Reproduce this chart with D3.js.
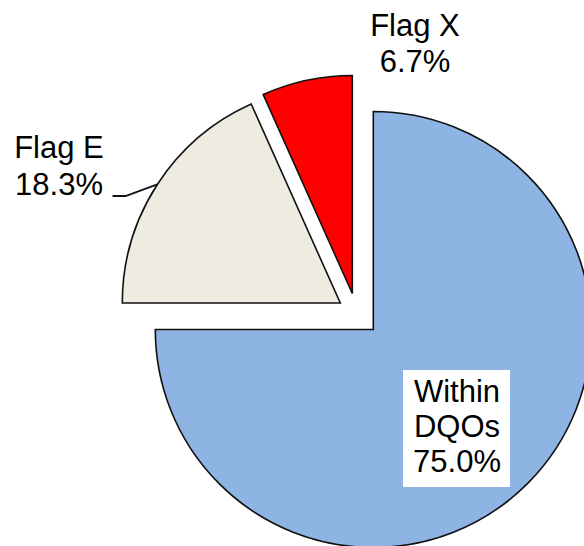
<!DOCTYPE html>
<html>
<head>
<meta charset="utf-8">
<script src="https://cdn.jsdelivr.net/npm/d3@7"></script>
<style>
  html, body { margin: 0; padding: 0; background: #fff; }
  svg { display: block; }
  text { font-family: "Liberation Sans", Arial, sans-serif; fill: #000; }
</style>
</head>
<body>
<svg id="chart" width="584" height="546"></svg>
<script>
// Share of results by data-quality flag
const categories = ["Within DQOs", "Flag E", "Flag X"];
const shares = [75.0, 18.3, 6.7];
const labelLines = [["Within", "DQOs", "75.0%"], ["Flag E", "18.3%"], ["Flag X", "6.7%"]];

// layout
const W = 584, H = 546;
const cx = 373.3, cy = 329.5, radius = 218;
const colors = { "Within DQOs": "#8EB4E3", "Flag E": "#EEECE1", "Flag X": "#FF0000" };
const explode = { "Within DQOs": [0, 0], "Flag E": [-33, -26.5], "Flag X": [-21, -36] };
const fontSize = 31, lineGap = 36;

const svg = d3.select("#chart");

const pie = d3.pie().sort(null).value(d => d.value).startAngle(0).endAngle(2 * Math.PI);
const arc = d3.arc().innerRadius(0).outerRadius(radius);

const rows = categories.map((c, i) => ({ name: c, value: shares[i], lines: labelLines[i] }));
const arcs = pie(rows);

const g = svg.append("g").attr("transform", `translate(${cx},${cy})`);

g.selectAll("path.slice")
  .data(arcs)
  .join("path")
  .attr("class", "slice")
  .attr("transform", d => `translate(${explode[d.data.name][0]},${explode[d.data.name][1]})`)
  .attr("d", arc)
  .attr("fill", d => colors[d.data.name])
  .attr("stroke", "#111")
  .attr("stroke-width", 1.6)
  .attr("stroke-linejoin", "miter");

// Flag E leader line, from label to the slice rim at its mid-angle
const e = arcs[1];
const eOff = explode["Flag E"];
const leadAngle = (e.startAngle + e.endAngle) / 2;
const rim = [cx + eOff[0] + radius * Math.sin(leadAngle), cy + eOff[1] - radius * Math.cos(leadAngle)];
svg.append("path")
  .attr("d", d3.line()([[112.5, 196], [125.5, 196], rim]))
  .attr("fill", "none")
  .attr("stroke", "#111")
  .attr("stroke-width", 1.8);

// labels
const labelPos = {
  "Within DQOs": { x: 457, y: 402, gap: 35, box: [403, 370, 107, 117] },
  "Flag E": { x: 59, y: 158, gap: 37 },
  "Flag X": { x: 415, y: 36, gap: 36 }
};

rows.forEach(r => {
  const p = labelPos[r.name];
  if (p.box) {
    svg.append("rect")
      .attr("x", p.box[0]).attr("y", p.box[1])
      .attr("width", p.box[2]).attr("height", p.box[3])
      .attr("fill", "#fff");
  }
  const t = svg.append("text")
    .attr("text-anchor", "middle")
    .attr("font-size", fontSize);
  r.lines.forEach((ln, i) => {
    t.append("tspan").attr("x", p.x).attr("y", p.y + i * p.gap).text(ln);
  });
});
</script>
</body>
</html>
